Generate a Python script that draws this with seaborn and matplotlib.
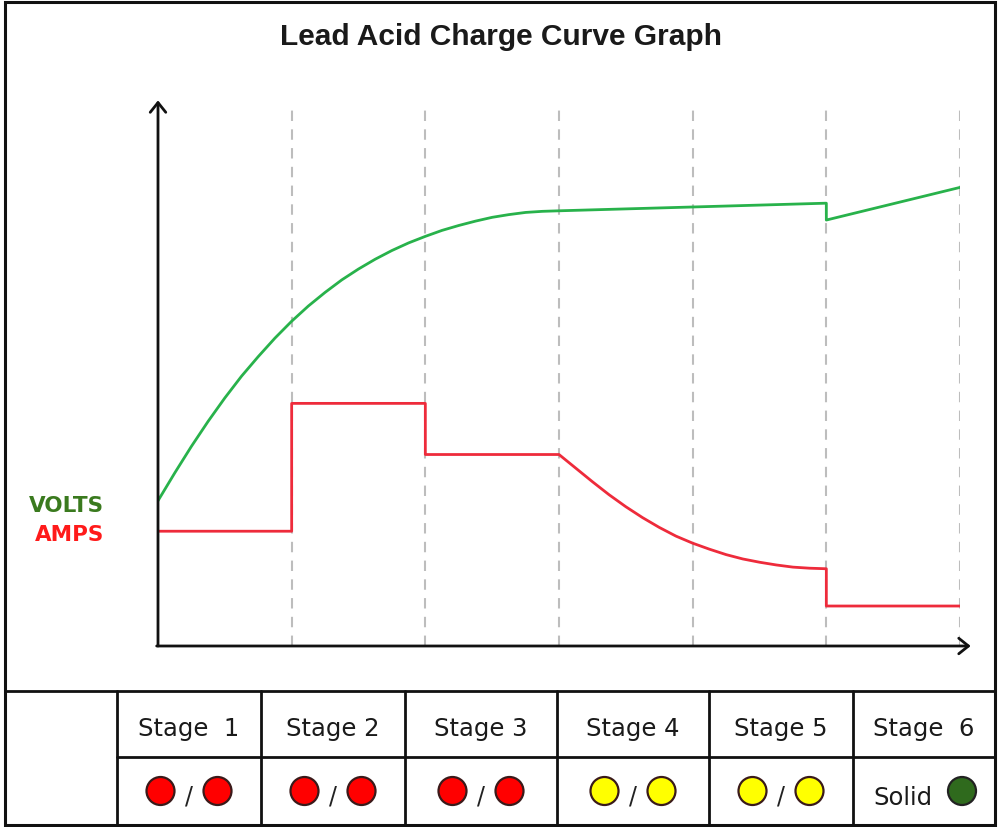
import matplotlib
matplotlib.use("Agg")
import matplotlib.pyplot as plt
import numpy as np
import pandas as pd
import seaborn as sns
from matplotlib.patches import Circle, Rectangle

# ---------------- data ----------------
title = "Lead Acid Charge Curve Graph"
stage_labels = ["Stage  1", "Stage 2", "Stage 3", "Stage 4", "Stage 5", "Stage  6"]
stage_bounds = [1, 2, 3, 4, 5, 6]

volts_x = [0.0, 0.125, 0.25, 0.375, 0.5, 0.625, 0.75, 0.875, 1.0, 1.125, 1.25, 1.375,
           1.5, 1.625, 1.75, 1.875, 2.0, 2.125, 2.25, 2.375, 2.5, 2.625, 2.75, 2.875,
           3.0, 5.0, 5.0, 6.0]
volts_y = [26.7, 31.8, 36.7, 41.3, 45.6, 49.6, 53.2, 56.6, 59.7, 62.5, 65.0, 67.3,
           69.3, 71.1, 72.7, 74.1, 75.3, 76.4, 77.3, 78.1, 78.8, 79.3, 79.7, 79.9,
           80.0, 81.4, 78.3, 84.3]

amps_x = [0.0, 1.0, 1.0, 2.0, 2.0, 3.0, 3.125, 3.25, 3.375, 3.5, 3.625, 3.75, 3.875,
          4.0, 4.125, 4.25, 4.375, 4.5, 4.625, 4.75, 4.875, 5.0, 5.0, 6.0]
amps_y = [21.1, 21.1, 44.6, 44.6, 35.2, 35.2, 32.7, 30.2, 27.8, 25.6, 23.6, 21.8, 20.2,
          18.9, 17.8, 16.8, 16.0, 15.4, 14.9, 14.5, 14.3, 14.2, 7.35, 7.35]

# indicator per stage: (left, right); "Solid" means text label
indicators = [("#ff0000", "#ff0000"), ("#ff0000", "#ff0000"), ("#ff0000", "#ff0000"),
              ("#ffff00", "#ffff00"), ("#ffff00", "#ffff00"), ("Solid", "#2f6a1d")]

# ---------------- style ----------------
sns.set_theme(style="white")
plt.rcParams["font.family"] = ["DejaVu Sans"]

GREEN = "#28b24b"
RED = "#ee2b3b"

fig = plt.figure(figsize=(10, 8.28), dpi=100)
fig.patch.set_facecolor("white")

# background overlay in pixel coordinates
bg = fig.add_axes([0, 0, 1, 1], zorder=0)
bg.set_xlim(0, 1000)
bg.set_ylim(828, 0)
bg.set_axis_off()

# main chart axes
ax = fig.add_axes([0.158, (828 - 647) / 828, 0.802, 544 / 828], zorder=1)
ax.patch.set_alpha(0)

# dashed stage lines
ax.vlines(stage_bounds, 0, 98.7, colors="#bdbdbd", linewidth=1.5,
          linestyles=[(0, (5, 4))], zorder=1)

df_v = pd.DataFrame({"x": volts_x, "y": volts_y})
df_a = pd.DataFrame({"x": amps_x, "y": amps_y})
sns.lineplot(data=df_v, x="x", y="y", ax=ax, color=GREEN, linewidth=2.0,
             sort=False, estimator=None, zorder=3)
sns.lineplot(data=df_a, x="x", y="y", ax=ax, color=RED, linewidth=2.0,
             sort=False, estimator=None, zorder=3)
ax.set_xlim(0, 6)
ax.set_ylim(0, 100)
ax.set_axis_off()

arrow_kw = dict(arrowstyle="->,head_length=0.5,head_width=0.4", lw=2.0,
                color="#111111", shrinkA=0, shrinkB=0, mutation_scale=14)
ax.annotate("", xy=(0, 100.3), xytext=(0, 0), arrowprops=arrow_kw,
            annotation_clip=False, zorder=4)
ax.annotate("", xy=(6.08, 0), xytext=(-0.01, 0), arrowprops=arrow_kw,
            annotation_clip=False, zorder=4)

# title and axis labels
bg.text(501, 45, title, ha="center", va="baseline", fontsize=21.5,
        fontweight="bold", family="Liberation Sans", color="#1a1a1a")
bg.text(104, 512, "VOLTS", ha="right", va="baseline", fontsize=15.5,
        fontweight="bold", color="#3a7a1e")
bg.text(104, 541, "AMPS", ha="right", va="baseline", fontsize=15.5,
        fontweight="bold", color="#ff1a1a")

# outer border
bg.add_patch(Rectangle((5, 3), 990, 823, fill=False, lw=2.2, edgecolor="#111111"))

# table
cols = [117, 261, 405, 557, 709, 853, 995]
row_top, row_mid, row_bot = 691.5, 758, 826
bg.plot([5, 995], [row_top, row_top], color="#111111", lw=2.0)
bg.plot([cols[0], 995], [row_mid, row_mid], color="#111111", lw=2.0)
for cx in cols[:-1]:
    bg.plot([cx, cx], [row_top, row_bot], color="#111111", lw=2.0)

for i, lab in enumerate(stage_labels):
    c = (cols[i] + cols[i + 1]) / 2
    bg.text(c, 736, lab, ha="center", va="baseline", fontsize=17.5, color="#1a1a1a")
    left, right = indicators[i]
    if left == "Solid":
        bg.text(c - 21, 805, "Solid", ha="center", va="baseline", fontsize=17.5,
                color="#1a1a1a")
        bg.add_patch(Circle((c + 38, 792), 14, facecolor=right, edgecolor="#222222",
                            lw=1.6, zorder=3))
    else:
        bg.add_patch(Circle((c - 28.5, 792), 14, facecolor=left, edgecolor="#3a1a1a",
                            lw=1.6, zorder=3))
        bg.add_patch(Circle((c + 28.5, 792), 14, facecolor=right, edgecolor="#3a1a1a",
                            lw=1.6, zorder=3))
        bg.text(c, 804, "/", ha="center", va="baseline", fontsize=17, color="#222222")

fig.savefig("out.png", dpi=100)
